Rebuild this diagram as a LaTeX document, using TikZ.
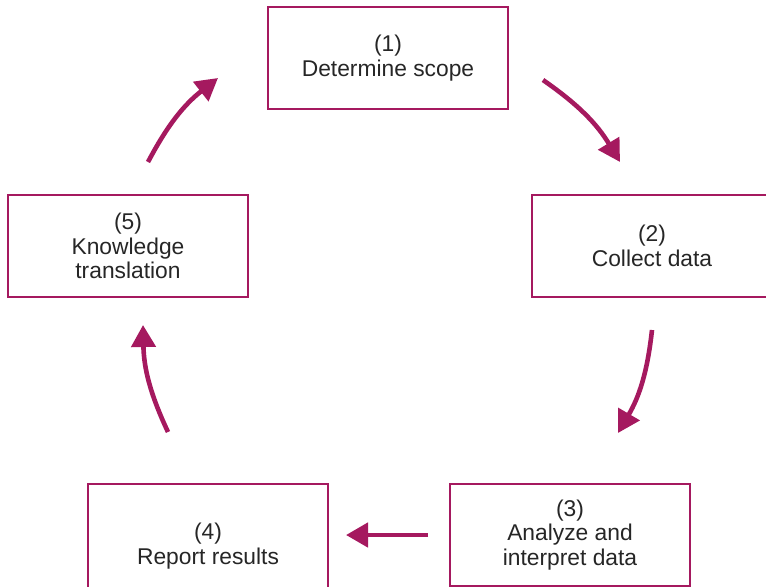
\documentclass[tikz,border=0pt]{standalone}
\usepackage{fontspec}
\setmainfont{Liberation Sans}
\usetikzlibrary{arrows.meta}
\definecolor{plum}{RGB}{165,25,95}

\begin{document}
\begin{tikzpicture}[x=0.5pt,y=-0.5pt,align=center,font=\fontsize{11.4}{12.2}\selectfont]
\tikzstyle{stage}=[rectangle,draw=plum,line width=1pt,minimum width=120pt,minimum height=51pt,inner sep=0pt,text=black!85]
\tikzstyle{flow}=[-{Triangle[length=11pt,width=12pt]},plum,line width=2.3pt,bend left=12]

\useasboundingbox (0,0) rectangle (766,586);

\node[stage] (s1) at (388,58) {(1)\\Determine scope};
\node[stage] (s2) at (652,246) {(2)\\Collect data};
\node[stage] (s3) at (570,535) {(3)\\Analyze and\\interpret data};
\node[stage,minimum height=62pt] (s4) at (208,546) {(4)\\Report results};
\node[stage] (s5) at (128,246) {(5)\\Knowledge\\translation};

% free arrow ends
\coordinate (a1s) at (543,80);  \coordinate (a1e) at (620,162);
\coordinate (a2s) at (652,330); \coordinate (a2e) at (618,433);
\coordinate (a3s) at (428,535); \coordinate (a3e) at (346,535);
\coordinate (a4s) at (168,432); \coordinate (a4e) at (143,325);
\coordinate (a5s) at (148,162); \coordinate (a5e) at (218,78);

\path
  (a1s) edge [flow] (a1e)
  (a2s) edge [flow] (a2e)
  (a3s) edge [flow,bend left=0] (a3e)
  (a4s) edge [flow] (a4e)
  (a5s) edge [flow] (a5e);
\end{tikzpicture}
\end{document}
